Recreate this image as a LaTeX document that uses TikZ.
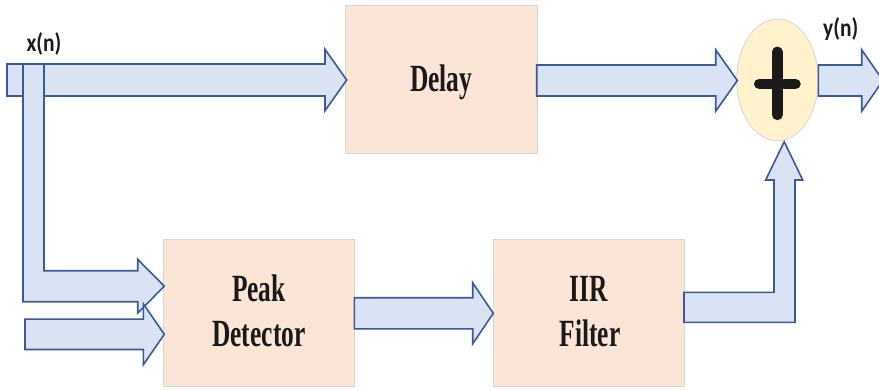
\documentclass[tikz,border=0pt]{standalone}
\usepackage{fontspec}
\usetikzlibrary{shapes.geometric}
\setmainfont{Liberation Serif}
\newfontfamily\blockfont[FakeStretch=0.66]{Liberation Serif}
\newfontfamily\sigfont[FakeStretch=0.84]{Carlito}
\definecolor{boxfill}{HTML}{FBE5D6}
\definecolor{boxline}{HTML}{D6D6D6}
\definecolor{flowfill}{HTML}{DAE3F3}
\definecolor{flowline}{HTML}{3A5A9C}
\definecolor{sumfill}{HTML}{FFF2CC}
\definecolor{sumline}{HTML}{D9D9D9}
\definecolor{ink}{HTML}{1A1A1A}
% horizontal block arrow: x start, x of head base, x of tip, y centre, shaft half, head half
\newcommand\hflow[6]{%
  \draw[flow] (#1,#4-#5) -- (#2,#4-#5) -- (#2,#4-#6) -- (#3,#4)
    -- (#2,#4+#6) -- (#2,#4+#5) -- (#1,#4+#5) -- cycle;}
\begin{document}
\begin{tikzpicture}[x=1pt,y=-1pt,
  blockbox/.style={draw=boxline, fill=boxfill, line width=0.9pt, inner sep=0pt},
  flow/.style={draw=flowline, fill=flowfill, line width=1.6pt, line join=miter},
  blocklabel/.style={font=\blockfont\bfseries\fontsize{38.5}{45}\selectfont, text=ink, anchor=base, inner sep=0pt},
  siglabel/.style={font=\sigfont\bfseries\fontsize{25.5}{28}\selectfont, text=ink, anchor=base, inner sep=0pt}]
\clip (0,0) rectangle (879,389);
\fill[white] (0,0) rectangle (879,389);

% processing blocks
\node[blockbox, minimum width=191.6pt, minimum height=147.6pt] (delay) at (441.5,79.5) {};
\node[blockbox, minimum width=191pt, minimum height=147.4pt] (peak) at (258.8,313) {};
\node[blockbox, minimum width=190.7pt, minimum height=147.7pt] (iir) at (588.65,312.85) {};

% summing junction
\node[ellipse, draw=sumline, fill=sumfill, line width=0.9pt, inner sep=0pt,
      minimum width=81.6pt, minimum height=121.7pt] (sum) at (777.5,79.9) {};
\draw[ink, line width=10.5pt, line cap=round]
  (759.2,83.8) -- (795.5,83.8) (777.3,51.8) -- (777.3,114.9);

% input path to the delay
\hflow{7}{325}{346.7}{80}{16}{30.7}
% input branch bending down into the peak detector
\draw[flow] (23,64) -- (44,64) -- (44,270.7) -- (137.7,270.7) -- (137.7,259.3)
  -- (164.3,286.2) -- (137.7,313.1) -- (137.7,301.7) -- (23,301.7) -- cycle;
% second input to the peak detector
\hflow{25}{143.3}{164.3}{334.3}{15.2}{30.5}
% peak detector to IIR filter
\hflow{354.3}{472.7}{493.3}{313.3}{15.6}{30.5}
% delay to summing junction
\hflow{536.7}{715.7}{737.3}{80.5}{15.5}{30.7}
% output
\hflow{818.3}{861.7}{883}{80.5}{15.5}{30.7}
% IIR filter up into the summing junction
\draw[flow] (684,292.3) -- (774,292.3) -- (774,180) -- (765.7,180) -- (784.2,141.7)
  -- (802.7,180) -- (795,180) -- (795,322.3) -- (684,322.3) -- cycle;

% block texts
\node[blocklabel] (delaytext) at (441.3,91) {Delay};
\node[blocklabel] (peaktext) at (258.9,301.7) {Peak};
\node[blocklabel] (dettext) at (258.9,346.7) {Detector};
\node[blocklabel] (iirtext) at (589,301.7) {IIR};
\node[blocklabel] (filtertext) at (590,346.7) {Filter};

% signal names
\node[siglabel] (xin) at (44,51.5) {x(n)};
\node[siglabel] (yout) at (840.7,36.5) {y(n)};
\end{tikzpicture}
\end{document}
